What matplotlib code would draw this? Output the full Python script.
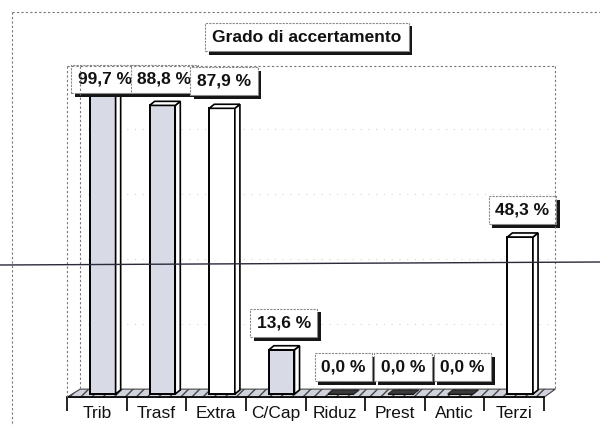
import matplotlib
matplotlib.use('Agg')
import numpy as np
import matplotlib.pyplot as plt
from matplotlib.patches import Polygon
from matplotlib.lines import Line2D
import matplotlib.patheffects as pe

# ---- data ----
categories = ['Trib', 'Trasf', 'Extra', 'C/Cap', 'Riduz', 'Prest', 'Antic', 'Terzi']
values = [99.7, 88.8, 87.9, 13.6, 0.0, 0.0, 0.0, 48.3]
shaded = [True, True, False, True, False, False, False, False]
title = 'Grado di accertamento'

plt.rcParams['font.family'] = ['Liberation Sans', 'DejaVu Sans']

W, H = 600, 426
fig = plt.figure(figsize=(6, 4.26), dpi=100)
fig.patch.set_facecolor('white')

def fx(px):
    return px / W

def fy(py):
    return 1 - py / H

# axes: x from 67px to 544px, y=0 at 394px, 3.25 px per unit
ax = fig.add_axes([fx(67), fy(397.25), 477 / W, (397.25 - 65.75) / H])
ax.set_xlim(-0.5, 7.5)
ax.set_ylim(-1.0, 101)
ax.patch.set_visible(False)
for s in ['top', 'right', 'left']:
    ax.spines[s].set_visible(False)
ax.yaxis.set_visible(False)
ax.spines['bottom'].set_linewidth(1.2)
ax.spines['bottom'].set_zorder(6)

n = len(categories)
xs = np.arange(n)
off = 0.10
w = 0.43
dx = 0.085   # depth in x units
dy = 1.25    # depth in y units

# floor
floor = Polygon([(-0.5, -1.0), (7.5, -1.0), (7.5 + 0.19, 1.5), (-0.5 + 0.22, 1.5)],
                closed=True, facecolor='#d0d3dc', edgecolor='#444444', lw=0.8,
                hatch='///', zorder=1, clip_on=False)
ax.add_patch(floor)

# faint back-wall gridlines
for g in [20, 40, 60, 80]:
    ax.plot([-0.5 + 0.22, 7.5 + 0.19], [g + 1.5, g + 1.5], color='#d5d5d5',
            lw=0.8, ls=(0, (1, 6)), zorder=0.5, clip_on=False)

face_cols = ['#d8dbe6' if s else 'white' for s in shaded]

# front faces
ax.bar(xs + off, values, width=w, color=face_cols, edgecolor='black',
       linewidth=1.4, zorder=3)

for i, v in enumerate(values):
    x0 = i + off - w / 2
    x1 = x0 + w
    if v > 0:
        side = Polygon([(x1, 0), (x1 + dx, dy), (x1 + dx, v + dy), (x1, v)],
                       closed=True, facecolor='white', edgecolor='black', lw=1.2, zorder=3)
        ax.add_patch(side)
        top = Polygon([(x0, v), (x0 + dx, v + dy), (x1 + dx, v + dy), (x1, v)],
                      closed=True, facecolor='white', edgecolor='black', lw=1.2, zorder=3)
        ax.add_patch(top)
    else:
        slab = Polygon([(x0, v), (x0 + dx, v + dy), (x1 + dx, v + dy), (x1, v)],
                       closed=True, facecolor='#3a3a3a', edgecolor='#222222', lw=0.8, zorder=3)
        ax.add_patch(slab)

shadow = [pe.SimplePatchShadow(offset=(2.6, -2.6), shadow_rgbFace='#151515', alpha=1.0),
          pe.Normal()]

# value labels
LABEL_CEIL = 88.6
for i, v in enumerate(values):
    lab = f"{v:.1f}".replace('.', ',') + ' %'
    yl = min(v, LABEL_CEIL)
    ann = ax.annotate(lab, xy=(i + off, yl), xytext=(1.5, 14), textcoords='offset points',
                      ha='center', va='bottom', fontsize=12.5, fontweight='bold',
                      color='#111111', zorder=10, annotation_clip=False,
                      bbox=dict(boxstyle='square,pad=0.38', fc='white', ec='#8a8a8a',
                                ls=(0, (2, 1)), lw=0.8))
    ann.get_bbox_patch().set_path_effects(shadow)

# x axis ticks / labels
ax.set_xticks(xs)
ax.set_xticklabels(categories, fontsize=12.5, color='#111111')
ax.tick_params(axis='x', which='major', length=0, pad=6)
ax.set_xticks(np.arange(-0.5, n, 1.0), minor=True)
ax.tick_params(axis='x', which='minor', length=10, width=1.2, direction='out', color='black')

# title
t = fig.text(fx(307), fy(37), title, ha='center', va='center', fontsize=12.5,
             fontweight='bold', color='#111111',
             bbox=dict(boxstyle='square,pad=0.4', fc='white', ec='#8a8a8a',
                       ls=(0, (2, 1)), lw=0.8))
t.get_bbox_patch().set_path_effects(shadow)

# decorative frame lines (figure pixel coordinates)
def fline(xp, yp, **kw):
    fig.add_artist(Line2D([fx(a) for a in xp], [fy(b) for b in yp],
                          transform=fig.transFigure, **kw))

dot = dict(color='#777777', lw=0.8, ls=(0, (2, 2)))
fline([12, 600], [12, 12], **dot)
fline([12, 12], [12, 426], **dot)
fline([67, 555], [66, 66], **dot)
fline([555, 555], [66, 389], **dot)
fline([67, 67], [66, 397], **dot)
fline([80, 80], [66, 389], **dot)

# scan line across the page
fline([0, 600], [265, 262], color='#2a2a3a', lw=1.0, zorder=20)

fig.savefig('out.png', dpi=100, facecolor='white')
